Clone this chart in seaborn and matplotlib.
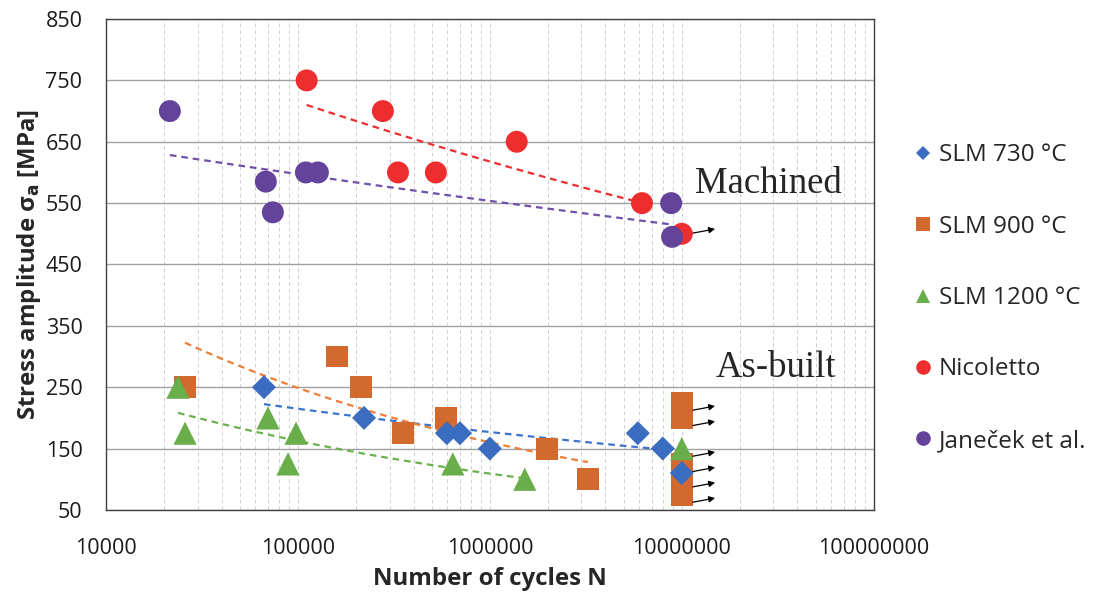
import numpy as np
import pandas as pd
import matplotlib
matplotlib.use("Agg")
import matplotlib.pyplot as plt
from matplotlib.transforms import offset_copy
import seaborn as sns

# data (runout = 1 -> not used for the power trendline)
slm730_n = [66500, 221000, 597000, 698000, 1000000, 5900000, 7960000, 10000000]
slm730_s = [250, 200, 175, 175, 150, 175, 150, 110]
slm730_ro = [0, 0, 0, 0, 0, 0, 0, 1]

slm900_n = [25800, 160000, 213000, 352000, 590000, 1980000, 3240000,
            10000000, 10000000, 10000000, 10000000, 10000000]
slm900_s = [250, 300, 250, 175, 200, 150, 100, 225, 200, 125, 100, 75]
slm900_ro = [0, 0, 0, 0, 0, 0, 0, 1, 1, 1, 1, 1]

slm1200_n = [23700, 25800, 69800, 88700, 97700, 641000, 1520000, 10000000]
slm1200_s = [250, 175, 200, 125, 175, 125, 100, 150]
slm1200_ro = [0, 0, 0, 0, 0, 0, 0, 1]

nico_n = [111000, 277000, 332000, 523000, 1380000, 6200000, 10000000]
nico_s = [750, 700, 600, 600, 650, 550, 500]
nico_ro = [0, 0, 0, 0, 0, 0, 1]

jan_n = [21500, 68000, 74000, 110000, 127000, 8800000, 8900000]
jan_s = [700, 585, 535, 600, 600, 550, 495]
jan_ro = [0, 0, 0, 0, 0, 0, 0]

labels = ["SLM 730 °C", "SLM 900 °C", "SLM 1200 °C", "Nicoletto", "Janeček et al."]
colors = ["#3a6cc0", "#d2692e", "#6aae4c", "#ee2e2e", "#64439b"]
line_colors = ["#3b74d0", "#f07d38", "#6ab04c", "#ee2e2e", "#7050aa"]
markers = ["D", "s", "^", "o", "o"]
marker_sizes = [150, 250, 280, 250, 250]
legend_msize = [7.6, 9.5, 10.5, 10.5, 10.5]

# runout arrows at 1e7 cycles
arrow_n = 10000000
arrow_asbuilt = [225, 200, 150, 125, 100, 75]
arrow_machined = [500]

series = {
    "SLM 730 °C": (slm730_n, slm730_s, slm730_ro),
    "SLM 900 °C": (slm900_n, slm900_s, slm900_ro),
    "SLM 1200 °C": (slm1200_n, slm1200_s, slm1200_ro),
    "Nicoletto": (nico_n, nico_s, nico_ro),
    "Janeček et al.": (jan_n, jan_s, jan_ro),
}
draw_order = ["Nicoletto", "Janeček et al.", "SLM 900 °C", "SLM 730 °C", "SLM 1200 °C"]

frames = []
for name in draw_order:
    n, s, ro = series[name]
    frames.append(pd.DataFrame({"N": n, "S": s, "runout": ro, "series": name}))
df = pd.concat(frames, ignore_index=True)

# power trendlines (Excel style), over the range of the fitted points
trend = []
for name in labels:
    n, s, ro = series[name]
    n = np.array(n, float)
    s = np.array(s, float)
    keep = np.array(ro) == 0
    b, a = np.polyfit(np.log10(n[keep]), np.log10(s[keep]), 1)
    xx = np.logspace(np.log10(n[keep].min()), np.log10(n[keep].max()), 50)
    trend.append(pd.DataFrame({"N": xx, "S": 10 ** a * xx ** b, "series": name}))
trend = pd.concat(trend, ignore_index=True)

sns.set_style("white")
plt.rcParams["font.family"] = ["Open Sans", "DejaVu Sans"]

fig = plt.figure(figsize=(10.99, 5.95), dpi=100)
ax = fig.add_axes([0.0965, 0.143, 0.6985, 0.825])

ax.set_xscale("log")
ax.set_xlim(1e4, 1e8)
ax.set_ylim(50, 850)
ax.set_yticks(np.arange(50, 851, 100))
ax.set_xticks([1e4, 1e5, 1e6, 1e7, 1e8])
ax.set_xticklabels(["10000", "100000", "1000000", "10000000", "100000000"])

ax.grid(True, which="both", axis="x", color="#d0d0d0", linestyle=(0, (4, 3)), lw=0.7)
ax.grid(True, which="major", axis="y", color="#a0a0a0", linestyle="-", lw=1.0)
ax.set_axisbelow(True)

sns.lineplot(data=trend, x="N", y="S", hue="series", hue_order=labels,
             palette=dict(zip(labels, line_colors)), legend=False, ax=ax,
             lw=1.6, zorder=2)
for ln in ax.get_lines():
    ln.set_dashes([3, 2.2])

sns.scatterplot(data=df, x="N", y="S", hue="series", style="series", size="series",
                hue_order=labels, style_order=labels, size_order=labels,
                palette=dict(zip(labels, colors)),
                markers=dict(zip(labels, markers)),
                sizes=dict(zip(labels, marker_sizes)),
                linewidth=0, ax=ax, zorder=3)

for v in arrow_asbuilt:
    tail = offset_copy(ax.transData, fig=fig, x=8, y=-5.5, units="points")
    head = offset_copy(ax.transData, fig=fig, x=24, y=-2.5, units="points")
    ax.annotate("", xy=(arrow_n, v), xycoords=head, xytext=(arrow_n, v), textcoords=tail,
                arrowprops=dict(arrowstyle="-|>", color="black", lw=0.9,
                                mutation_scale=9, shrinkA=0, shrinkB=0), zorder=4)
for v in arrow_machined:
    tail = offset_copy(ax.transData, fig=fig, x=8, y=0.5, units="points")
    head = offset_copy(ax.transData, fig=fig, x=24, y=3.5, units="points")
    ax.annotate("", xy=(arrow_n, v), xycoords=head, xytext=(arrow_n, v), textcoords=tail,
                arrowprops=dict(arrowstyle="-|>", color="black", lw=0.9,
                                mutation_scale=9, shrinkA=0, shrinkB=0), zorder=4)

ax.text(1.17e7, 566, "Machined", family="Liberation Serif", fontsize=26.5, va="baseline")
ax.text(1.5e7, 267, "As-built", family="Liberation Serif", fontsize=26.5, va="baseline")

for sp in ax.spines.values():
    sp.set_visible(True)
    sp.set_color("#404040")
    sp.set_linewidth(1.0)
ax.tick_params(axis="both", which="major", direction="in", length=6, width=1,
               color="#404040", labelsize=15.5, labelcolor="#1a1a1a")
ax.tick_params(axis="x", which="major", pad=20)
ax.tick_params(axis="y", which="major", pad=17)
ax.tick_params(axis="x", which="minor", length=0)

ax.set_xlabel("Number of cycles N", fontsize=17.3, fontweight="bold", labelpad=6)
ax.set_ylabel(r"Stress amplitude σ$_\mathbf{a}$ [MPa]", fontsize=17.3,
              fontweight="bold", labelpad=2)

handles, labs = ax.get_legend_handles_labels()
if ax.legend_:
    ax.legend_.remove()
leg = fig.legend(handles, labs, loc="center left", bbox_to_anchor=(0.818, 0.499),
                 frameon=False, fontsize=17.5, labelspacing=1.95, handletextpad=0.05,
                 handlelength=1.2, borderaxespad=0)
for h, ms in zip(leg.legend_handles, legend_msize):
    if hasattr(h, "set_markersize"):
        h.set_markersize(ms)
    elif hasattr(h, "set_sizes"):
        h.set_sizes([ms ** 2])

fig.savefig("out.png", dpi=100)
